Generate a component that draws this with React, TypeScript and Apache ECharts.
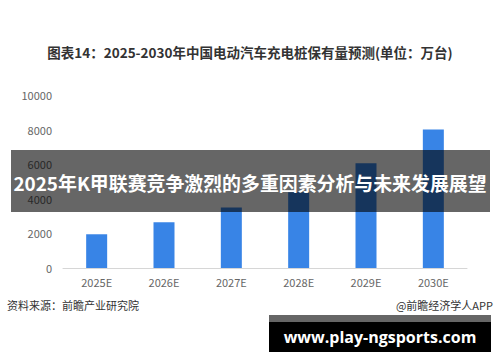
import React, { useEffect, useRef } from "react";
import * as echarts from "echarts";

const categories = ["2025E", "2026E", "2027E", "2028E", "2029E", "2030E"];
const values = [1950, 2650, 3500, 4380, 6050, 8000];
const yTicks = { min: 0, max: 10000, interval: 2000 };
const titleText = "图表14：2025-2030年中国电动汽车充电桩保有量预测(单位：万台)";
const bannerText = "2025年K甲联赛竞争激烈的多重因素分析与未来发展展望";
const sourceText = "资料来源：前瞻产业研究院";
const brandText = "@前瞻经济学人APP";
const siteText = "www.play-ngsports.com";

const CJK = '"Noto Sans CJK SC", "Noto Sans", sans-serif';

export default function App() {
  const ref = useRef<HTMLDivElement>(null);
  useEffect(() => {
    if (!ref.current) return;
    const chart = echarts.init(ref.current, undefined, { renderer: "svg" });
    chart.setOption({
      animation: false,
      backgroundColor: "#ffffff",
      grid: { left: 63, right: 33, top: 95, bottom: 94 },
      xAxis: {
        type: "category",
        data: categories,
        axisLine: { lineStyle: { color: "#d6d6d6", width: 1 } },
        axisTick: { show: false },
        axisLabel: { color: "#666", fontSize: 11, fontFamily: CJK, margin: 8 },
      },
      yAxis: {
        type: "value",
        min: yTicks.min,
        max: yTicks.max,
        interval: yTicks.interval,
        axisLine: { show: false },
        axisTick: { show: false },
        splitLine: { show: false },
        axisLabel: {
          color: "#666",
          fontSize: 11,
          fontFamily: CJK,
          margin: 11,
          formatter: (v: number) => String(v),
        },
      },
      series: [
        {
          type: "bar",
          data: values,
          barWidth: 21,
          itemStyle: { color: "#3884e6" },
        },
      ],
      graphic: [
        {
          type: "text",
          left: "center",
          top: 45,
          style: {
            text: titleText,
            fontSize: 13.5,
            fontWeight: "bold",
            fill: "#333",
            fontFamily: CJK,
          },
        },
        {
          type: "rect",
          shape: { x: 11, y: 150, width: 479, height: 62 },
          style: { fill: "rgba(0,0,0,0.6)" },
          z: 100,
        },
        {
          type: "text",
          x: 250,
          y: 182,
          z: 101,
          style: {
            text: bannerText,
            fontSize: 18.9,
            fontWeight: "bold",
            fill: "#fff",
            fontFamily: CJK,
            align: "center",
            verticalAlign: "middle",
          },
        },
        {
          type: "text",
          x: 7,
          y: 305,
          style: {
            text: sourceText,
            fontSize: 11,
            fill: "#333",
            fontFamily: CJK,
            verticalAlign: "middle",
          },
        },
        {
          type: "text",
          x: 493,
          y: 305,
          style: {
            text: brandText,
            fontSize: 11,
            fill: "#333",
            fontFamily: CJK,
            align: "right",
            verticalAlign: "middle",
          },
        },
        {
          type: "rect",
          shape: { x: 269, y: 315, width: 222, height: 37 },
          style: { fill: "#666" },
          z: 100,
        },
        {
          type: "rect",
          shape: { x: 269, y: 322, width: 222, height: 30 },
          style: { fill: "#000" },
          z: 101,
        },
        {
          type: "text",
          x: 380,
          y: 337,
          z: 102,
          style: {
            text: siteText,
            fontSize: 16,
            fontWeight: "bold",
            fill: "#fff",
            fontFamily: '"Open Sans", "DejaVu Sans", sans-serif',
            align: "center",
            verticalAlign: "middle",
          },
        },
      ],
    });
    return () => chart.dispose();
  }, []);
  return (
    <div
      ref={ref}
      style={{ position: "fixed", left: 0, top: 0, width: 500, height: 362 }}
    />
  );
}
